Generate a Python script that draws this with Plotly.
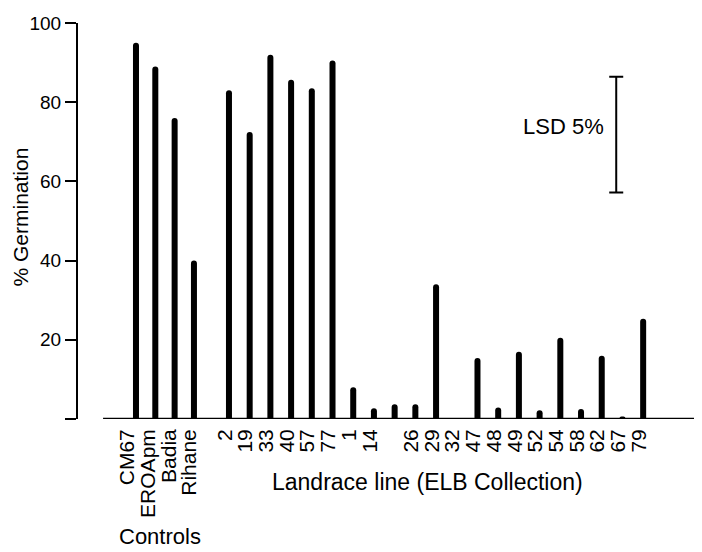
import plotly.graph_objects as go

# ---- data ----
control_names = ["CM67", "EROApm", "Badia", "Rihane"]
control_values = [95, 89, 76, 40]

landrace_labels = ["2", "19", "33", "40", "57", "77", "1", "14", "", "26", "29",
                   "32", "47", "48", "49", "52", "54", "58", "62", "67", "79"]
landrace_values = [83, 72.5, 92, 85.7, 83.5, 90.5, 8, 2.7, 3.7, 3.7, 34,
                   0, 15.4, 2.9, 17, 2.2, 20.5, 2.5, 16, 0.6, 25.3]

lsd_low = 57.2
lsd_high = 86.4
y_ticks = [0, 20, 40, 60, 80, 100]
y_ticktext = ["", "20", "40", "60", "80", "100"]

# ---- positions (controls, gap, landrace lines) ----
GAP = 1.7
CTRL_STEP = 0.933
x_controls = [0.21 + i * CTRL_STEP for i in range(len(control_names))]
x_land = [len(control_names) - 1 + GAP + j for j in range(len(landrace_labels))]
xs = x_controls + x_land
ys = control_values + landrace_values
labels = control_names + landrace_labels
tick_pos = [i - 0.2 for i in range(len(control_names))] + [x - 0.2 for x in x_land]

FONT = "Liberation Sans, Arial, Helvetica, sans-serif"

fig = go.Figure()
fig.add_trace(go.Bar(x=xs, y=ys, width=0.29, marker=dict(color="black", line=dict(width=0)),
                     showlegend=False, hoverinfo="x+y"))

# LSD bar
lsd_x = 23.4
fig.add_trace(go.Scatter(
    x=[lsd_x], y=[(lsd_low + lsd_high) / 2], mode="markers",
    marker=dict(size=1, color="rgba(0,0,0,0)"),
    error_y=dict(type="data", array=[(lsd_high - lsd_low) / 2], color="black",
                 thickness=2, width=7),
    showlegend=False, hoverinfo="skip"))

# page body has an 8px margin: figure is offset by 8px on screen
W, H = 694, 544
L, R, T, B = 70, 5, 10, 133
PW, PH = W - L - R, H - T - B
x0, x1 = -2.59, 27.3


def px_to_paper_x(px):
    return (px - 8 - L) / PW


def px_to_paper_y(py):
    return (H - B - (py - 8)) / PH


fig.update_layout(
    width=W, height=H,
    margin=dict(l=L, r=R, t=T, b=B),
    paper_bgcolor="white", plot_bgcolor="white",
    font=dict(family=FONT, size=20, color="black"),
    barcornerradius=3,
    xaxis=dict(range=[x0, x1], showline=False, showgrid=False, zeroline=False,
               tickmode="array", tickvals=tick_pos, ticktext=labels,
               tickangle=-90, ticks="", tickfont=dict(size=21), ticklabelstandoff=5),
    yaxis=dict(range=[0, 100], showline=True, linecolor="black", linewidth=2,
               showgrid=False, zeroline=False, tickmode="array", tickvals=y_ticks,
               ticktext=y_ticktext, ticks="outside", ticklen=11, tickwidth=1.5,
               tickcolor="black", tickfont=dict(size=19), ticklabeloverflow="allow"),
    shapes=[dict(type="line", xref="x", yref="y", x0=-1.38, x1=x1, y0=0, y1=0,
                 line=dict(color="black", width=2.5), layer="above")],
    annotations=[
        dict(text="% Germination", xref="paper", yref="paper",
             x=px_to_paper_x(21), y=px_to_paper_y(215),
             textangle=-90, showarrow=False, font=dict(size=21),
             xanchor="center", yanchor="middle"),
        dict(text="LSD 5%", xref="x", yref="y", x=22.9, y=(lsd_low + lsd_high) / 2 + 2,
             showarrow=False, xanchor="right", yanchor="middle", font=dict(size=22)),
        dict(text="Landrace line (ELB Collection)", xref="paper", yref="paper",
             x=px_to_paper_x(427), y=px_to_paper_y(483), showarrow=False,
             xanchor="center", yanchor="middle", font=dict(size=23)),
        dict(text="Controls", xref="paper", yref="paper",
             x=px_to_paper_x(160), y=px_to_paper_y(538), showarrow=False,
             xanchor="center", yanchor="middle", font=dict(size=22)),
    ],
)

fig.write_html("out.html")
